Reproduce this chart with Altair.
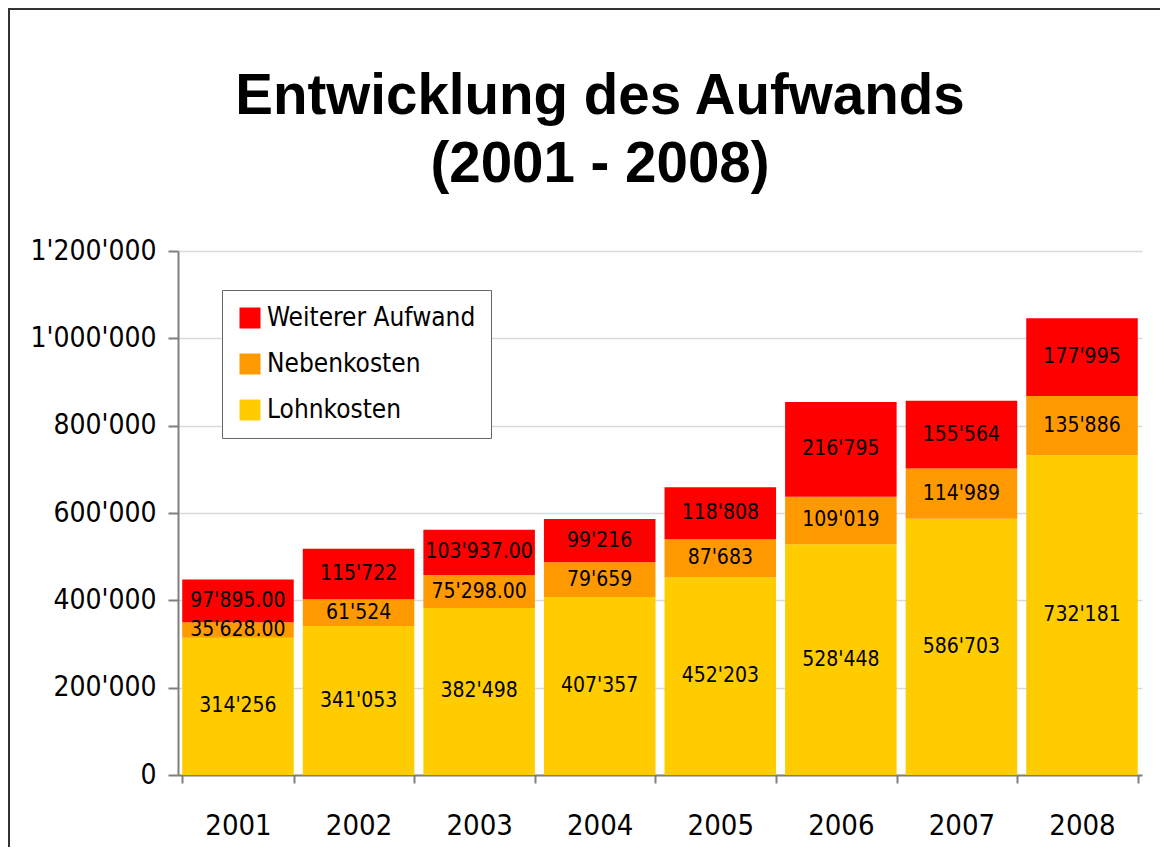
import altair as alt
import pandas as pd

years = ["2001", "2002", "2003", "2004", "2005", "2006", "2007", "2008"]
lohn = [314256, 341053, 382498, 407357, 452203, 528448, 586703, 732181]
neben = [35628, 61524, 75298, 79659, 87683, 109019, 114989, 135886]
weiter = [97895, 115722, 103937, 99216, 118808, 216795, 155564, 177995]
lohn_labels = ["314'256", "341'053", "382'498", "407'357", "452'203", "528'448", "586'703", "732'181"]
neben_labels = ["35'628.00", "61'524", "75'298.00", "79'659", "87'683", "109'019", "114'989", "135'886"]
weiter_labels = ["97'895.00", "115'722", "103'937.00", "99'216", "118'808", "216'795", "155'564", "177'995"]
series = ["Lohnkosten", "Nebenkosten", "Weiterer Aufwand"]
legend_order = ["Weiterer Aufwand", "Nebenkosten", "Lohnkosten"]
legend_colors = ["#FF0000", "#FF9900", "#FFCC00"]
y_ticks = [0, 200000, 400000, 600000, 800000, 1000000, 1200000]

rows = []
for i, yr in enumerate(years):
    base = 0
    for k, (name, vals, labs) in enumerate(zip(series, [lohn, neben, weiter],
                                              [lohn_labels, neben_labels, weiter_labels])):
        v = vals[i]
        rows.append({"Jahr": yr, "Serie": name, "lo": base, "hi": base + v,
                     "mid": base + v / 2, "label": labs[i], "ord": k})
        base += v
df = pd.DataFrame(rows)

NARROW = "DejaVu Sans Condensed, Liberation Sans, sans-serif"

x_enc = alt.X("Jahr:N", sort=years,
              scale=alt.Scale(paddingInner=0.075, paddingOuter=0.035),
              axis=alt.Axis(title=None, labelAngle=0, grid=False, tickBand="extent",
                            domainColor="#7f7f7f", domainWidth=2, tickColor="#7f7f7f",
                            tickWidth=2, tickSize=8, labelPadding=28, labelFontSize=29,
                            labelFont=NARROW, labelColor="black"))
y_scale = alt.Scale(domain=[0, 1200000], nice=False)

bars = alt.Chart(df).mark_bar().encode(
    x=x_enc,
    y=alt.Y("lo:Q", scale=y_scale,
            axis=alt.Axis(title=None, values=y_ticks,
                          labelExpr="replace(format(datum.value, ','), regexp(',', 'g'), \"'\")",
                          grid=True, gridColor="#d9d9d9", gridWidth=1.5,
                          domainColor="#7f7f7f", domainWidth=2, tickColor="#7f7f7f",
                          tickWidth=2, tickSize=10, labelPadding=12, labelFontSize=28,
                          labelFont=NARROW, labelColor="black")),
    y2="hi:Q",
    color=alt.Color("Serie:N", scale=alt.Scale(domain=legend_order, range=legend_colors),
                    legend=alt.Legend(title=None, orient="none", legendX=44, legendY=39,
                                      symbolType="square", symbolSize=441, symbolStrokeWidth=0,
                                      labelFontSize=26, labelFont=NARROW, labelColor="black",
                                      labelLimit=400,
                                      rowPadding=20, labelOffset=4, padding=15,
                                      strokeColor="#666666", fillColor="white")),
    order=alt.Order("ord:Q"),
)

labels = alt.Chart(df).mark_text(fontSize=21, font=NARROW, color="black",
                                 baseline="middle", align="center").encode(
    x=alt.X("Jahr:N", sort=years),
    y=alt.Y("mid:Q", scale=y_scale),
    text="label:N",
)

border = alt.Chart(alt.Data(values=[{"a": 1}])).mark_rect(
    fill=None, stroke="#333333", strokeWidth=2, clip=False).encode(
    x=alt.value(-169), x2=alt.value(1200), y=alt.value(-242), y2=alt.value(900))

chart = alt.layer(border, bars, labels).properties(
    width=964, height=524,
    title=alt.TitleParams(["Entwicklung des Aufwands", "(2001 - 2008)"],
                          font="Liberation Sans", fontSize=56.5, fontWeight="bold",
                          color="black", lineHeight=68, anchor="middle", frame="group",
                          baseline="bottom", dx=-60, offset=-242),
    autosize=alt.AutoSizeParams(type="none"),
    padding={"left": 170, "top": 243, "right": 18, "bottom": 72},
).configure_view(stroke=None)

chart.save("out.html", embed_options={"renderer": "svg", "actions": False})
